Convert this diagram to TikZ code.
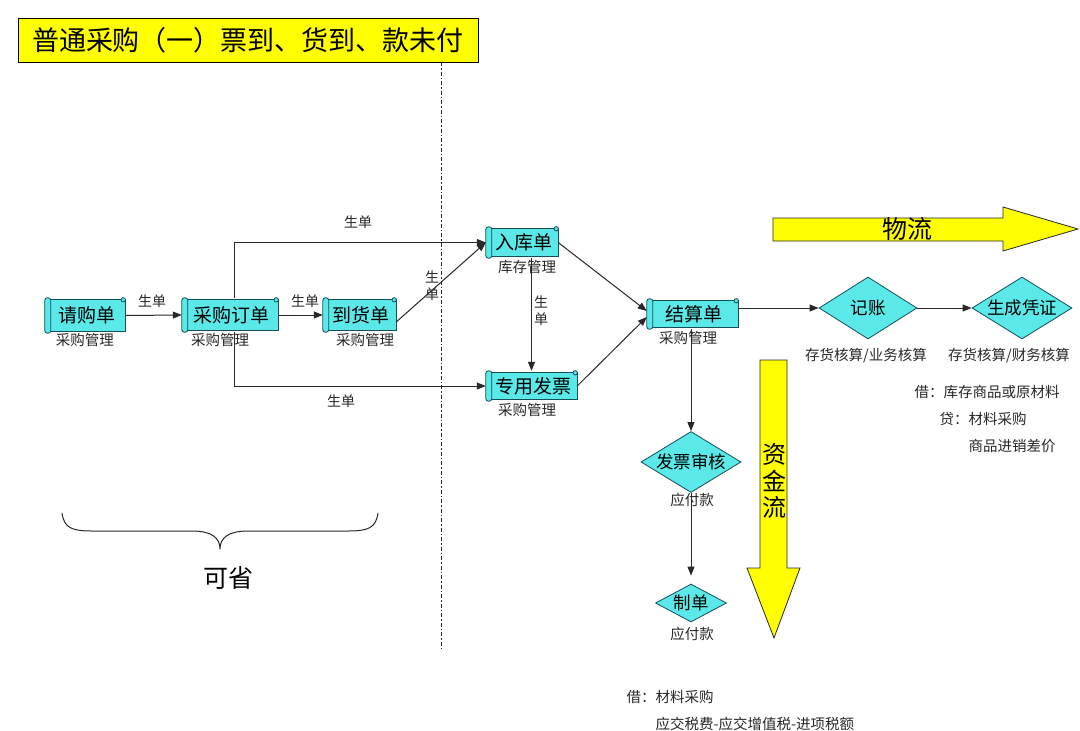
\documentclass[tikz,border=0pt]{standalone}
\usepackage{fontspec}
\setmainfont{Noto Sans CJK SC}
\usetikzlibrary{arrows.meta,shapes.geometric,calc,backgrounds}
\definecolor{scrollfill}{RGB}{90,232,232}
\definecolor{scrolledge}{RGB}{20,80,90}
\definecolor{ylw}{RGB}{255,255,0}
\definecolor{lnc}{RGB}{40,40,40}
\newcommand\scrolldeco[1]{%
 \begin{scope}[on background layer]
 \filldraw[fill=scrollfill, draw=scrolledge, line width=0.8pt] ($(#1.north west)+(4,2)$) rectangle ($(#1.south east)+(0,-2)$);
 \filldraw[fill=scrollfill, draw=scrolledge, line width=0.8pt, rounded corners=2.5pt] (#1.north west) rectangle ($(#1.south west)+(6,0)$);
 \filldraw[fill=scrollfill, draw=scrolledge, line width=0.8pt] ($(#1.north east)+(-2,2)$) circle[radius=2.2pt];
 \end{scope}}
\begin{document}
\begin{tikzpicture}[x=1pt,y=-1pt,
 scroll/.style={rectangle, inner sep=0pt, font=\fontsize{19}{19}\selectfont},
 dmd/.style={diamond, draw=scrolledge, line width=0.8pt, fill=scrollfill, inner sep=0pt},
 dtext/.style={font=\fontsize{17.5}{17.5}\selectfont},
 sub/.style={font=\fontsize{14.5}{14.5}\selectfont, text=lnc},
 lbl/.style={font=\fontsize{14}{17}\selectfont, text=lnc, align=center},
 arr/.style={draw=lnc, line width=1pt, -{Triangle[length=9pt,width=7pt]}},
 big/.style={fill=ylw, draw=lnc, line width=0.8pt}]
\useasboundingbox (0,0) rectangle (1080,731);
\begin{scope}[on background layer]
\fill[white] (0,0) rectangle (1080,731);
\end{scope}

% title
\node[draw=black, line width=0.8pt, fill=ylw, minimum width=460pt, minimum height=44pt, inner sep=0pt,
 font=\fontsize{27}{27}\selectfont] (title) at (248,40) {普通采购（一）票到、货到、款未付};

% dashed divider
\coordinate (dtop) at (441,62);
\coordinate (dbot) at (441,648);
\draw[lnc, line width=1pt, dash pattern=on 4pt off 2pt on 1.5pt off 2pt] (dtop) -- (dbot);

% scroll nodes
\node[scroll, minimum width=80pt, minimum height=35pt] (qg) at (85,315.5) {\hspace{3pt}请购单};
\node[scroll, minimum width=96pt, minimum height=34pt] (cg) at (230,315) {\hspace{3pt}采购订单};
\node[scroll, minimum width=73pt, minimum height=34pt] (dh) at (359.5,315) {\hspace{3pt}到货单};
\node[scroll, minimum width=72pt, minimum height=31pt] (rk) at (522,242.5) {\hspace{3pt}入库单};
\node[scroll, minimum width=91pt, minimum height=30pt] (zy) at (531.5,386) {\hspace{3pt}专用发票};
\node[scroll, minimum width=91pt, minimum height=30pt] (js) at (692.5,314) {\hspace{3pt}结算单};
\scrolldeco{qg}\scrolldeco{cg}\scrolldeco{dh}\scrolldeco{rk}\scrolldeco{zy}\scrolldeco{js}

\node[sub] (qgl) at (85,340) {采购管理};
\node[sub] (cgl) at (220,340) {采购管理};
\node[sub] (dhl) at (365,340) {采购管理};
\node[sub] (rkl) at (527,267) {库存管理};
\node[sub] (zyl) at (527,410) {采购管理};
\node[sub] (jsl) at (688,338) {采购管理};

% diamonds
\node[dmd, minimum width=98pt, minimum height=62pt] (jz) at (868,308) {};
\node[dtext] (jzt) at (jz) {记账};
\node[dmd, minimum width=100pt, minimum height=62pt] (sc) at (1022,308) {};
\node[dtext] (sct) at (sc) {生成凭证};
\node[dmd, minimum width=100pt, minimum height=61pt] (fp) at (691,462) {};
\node[dtext] (fpt) at (fp) {发票审核};
\node[dmd, minimum width=71pt, minimum height=38pt] (zd) at (691,603) {};
\node[dtext] (zdt) at (zd) {制单};

\node[sub] (jzl) at (866,356) {存货核算/业务核算};
\node[sub] (scl) at (1009,356) {存货核算/财务核算};
\node[sub] (fpl) at (692,500) {应付款};
\node[sub] (zdl) at (692,634) {应付款};
\node[sub, anchor=west] (d1) at (911,392) {借：库存商品或原材料};
\node[sub, anchor=west] (d2) at (936,419) {贷：材料采购};
\node[sub, anchor=west] (d3) at (965,446) {商品进销差价};
\node[sub, anchor=west] (b1) at (623,697) {借：材料采购};
\node[sub, anchor=west] (b2) at (652,724) {应交税费-应交增值税-进项税额};

% connectors
\draw[arr] (qg.east) -- (cg.west);
\node[lbl] (l1) at (152,301) {生单};
\draw[arr] (cg.east) -- (dh.west);
\node[lbl] (l2) at (305,301) {生单};
\coordinate (cgn) at ($(cg.north)+(4,0)$);
\draw[arr] (cgn) |- (rk.west);
\node[lbl] (l3) at (358,222) {生单};
\coordinate (cgs) at ($(cg.south)+(4,0)$);
\draw[arr] (cgs) |- (zy.west);
\node[lbl] (l4) at (341,401) {生单};
\coordinate (dhe) at ($(dh.east)+(0,7)$);
\draw[arr] (dhe) -- (rk.west);
\node[lbl] (l5) at (432,286) {生\\单};
\draw[arr] (rk.south -| zy.north) -- (zy.north);
\node[lbl] (l6) at (541,311) {生\\单};
\coordinate (jsw1) at ($(js.west)+(0,-3)$);
\coordinate (jsw2) at ($(js.west)+(0,3)$);
\draw[arr] (rk.east) -- (jsw1);
\draw[arr] (zy.east) -- (jsw2);
\draw[arr] (jz.west -| js.east) -- (jz.west);
\draw[arr] (jz.east) -- (sc.west);
\draw[arr] (fp.north |- js.south) -- (fp.north);
\draw[arr, shorten >=8pt] (fp.south) -- (zd.north);

% big arrows
\draw[big] (773,218) -- (1003,218) -- (1003,207) -- (1078,229) -- (1003,251) -- (1003,241) -- (773,241) -- cycle;
\node[font=\fontsize{25}{25}\selectfont] (wl) at (907,229) {物流};
\draw[big] (760,360) -- (787,360) -- (787,568) -- (800,568) -- (774,638) -- (747,568) -- (760,568) -- cycle;
\node[font=\fontsize{24}{26.5}\selectfont, align=center] (zjl) at (774,481) {资\\金\\流};

% brace
\draw[lnc, line width=1pt] (62,513) .. controls (64,528) and (72,531) .. (92,531) -- (192,531)
 .. controls (212,531) and (220,538) .. (220,549) .. controls (220,538) and (228,531) .. (248,531)
 -- (348,531) .. controls (368,531) and (376,528) .. (378,513);
\node[font=\fontsize{25}{25}\selectfont] (ks) at (228,578) {可省};
\end{tikzpicture}
\end{document}
